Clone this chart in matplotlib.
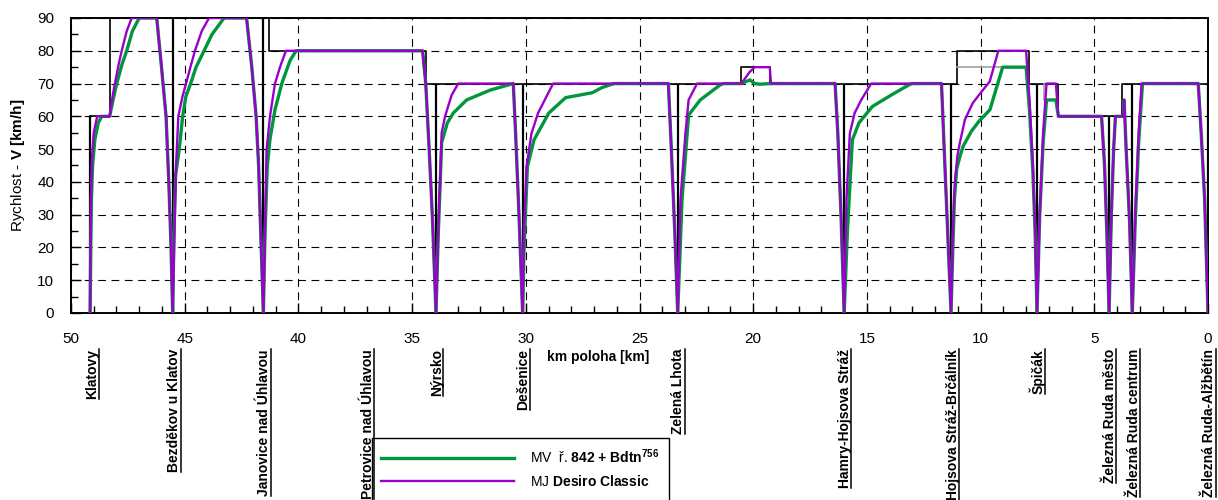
import matplotlib
matplotlib.use("Agg")
import matplotlib.pyplot as plt
from matplotlib.lines import Line2D
from matplotlib.transforms import IdentityTransform, blended_transform_factory
from matplotlib.ticker import MultipleLocator

plt.rcParams['font.family'] = ['Liberation Sans', 'DejaVu Sans']
plt.rcParams['mathtext.fontset'] = 'custom'
plt.rcParams['mathtext.rm'] = 'Liberation Sans'
plt.rcParams['mathtext.bf'] = 'Liberation Sans:bold'
plt.rcParams['mathtext.it'] = 'Liberation Sans:italic'

# ---------------- data ----------------
station_names = ["Klatovy", "Bezděkov u Klatov", "Janovice nad Úhlavou",
                 "Petrovice nad Úhlavou", "Nýrsko", "Dešenice", "Zelená Lhota",
                 "Hamry-Hojsova Stráž", "Hojsova Stráž-Brčálník", "Špičák",
                 "Železná Ruda město", "Železná Ruda centrum", "Železná Ruda-Alžbětín"]
station_km = [49.05, 45.45, 41.5, 36.95, 33.92, 30.12, 23.3, 15.97, 11.22, 7.52,
              4.33, 3.27, -0.05]

stop_km = [49.16, 45.53, 41.54, 33.95, 30.14, 23.32, 16.0, 11.3, 7.52, 4.35, 3.33, 0.0]
stop_limit = [60, 90, 90, 70, 70, 70, 70, 70, 70, 60, 70, 70]

limit_km = [49.16, 48.3, 41.3, 34.4, 20.52, 19.27, 11.04, 7.87, 6.6, 3.78, 0.0]
limit_v = [60, 90, 80, 70, 75, 70, 80, 70, 60, 70, 70]

gray_km = [11.04, 8.0]
gray_v = [75, 75]
gray2_km = [7.21, 7.21]
gray2_v = [70, 65]

green_km = [49.16, 49.13, 49.1, 49.05, 48.95, 48.8, 48.65, 48.3, 48.15, 47.99, 47.75,
            47.55, 47.3, 47.0, 46.23, 46.02, 45.82, 45.7, 45.6, 45.53,
            45.47, 45.4, 45.24, 45.09, 44.95, 44.74, 44.5, 44.15, 43.8, 43.27,
            42.28, 42.05, 41.86, 41.75, 41.66, 41.54,
            41.47, 41.37, 41.25, 41.03, 40.73, 40.37, 40.1,
            34.54, 34.4, 34.25, 34.1, 33.95,
            33.85, 33.7, 33.45, 33.19, 32.6, 31.57, 30.55, 30.45, 30.3, 30.14,
            30.08, 29.93, 29.64, 28.99, 28.25, 27.08, 26.64, 26.12,
            23.73, 23.6, 23.45, 23.32,
            23.13, 22.84, 22.33, 21.45, 21.3,
            20.52, 20.15, 19.93, 19.7, 19.27,
            16.4, 16.28, 16.14, 16.0,
            15.86, 15.64, 15.35, 14.76, 13.88, 13.15, 13.0,
            11.72, 11.6, 11.45, 11.3,
            11.22, 11.15, 11.05, 10.9, 10.76, 10.4, 10.06, 9.59, 9.03, 8.0,
            7.85, 7.7, 7.6, 7.52,
            7.4, 7.25, 7.1, 6.69, 6.58,
            4.68, 4.55, 4.45, 4.35,
            4.25, 4.15, 4.07, 3.79, 3.72, 3.69, 3.6, 3.45, 3.33,
            3.2, 3.05, 2.88, 0.43, 0.3, 0.15, 0.0]
green_v = [0, 20, 35, 45, 53, 58, 60, 60, 65, 70, 76,
           80, 86, 90, 90, 75, 60, 40, 20, 0,
           25, 42, 50, 60, 66, 70, 75, 80, 85, 90,
           90, 75, 60, 45, 25, 0,
           24, 44.6, 53, 62, 70, 77, 80,
           80, 70, 50, 28, 0,
           24, 52, 58, 61, 65, 68, 70, 55, 30, 0,
           19, 44.6, 52.8, 61, 65.7, 67.2, 68.8, 70,
           70, 50, 25, 0,
           34.5, 60.4, 65, 69.6, 70,
           70, 71.1, 70, 69.8, 70,
           70, 55, 30, 0,
           24.4, 52.8, 58, 63, 66.7, 69.6, 70,
           70, 50, 25, 0,
           20, 35, 44, 48, 51, 55.5, 58.6, 62, 75, 75,
           62, 43, 24, 0,
           30, 52, 65, 65, 60,
           60, 45, 25, 0,
           30, 50, 60, 60, 60, 65, 50, 28, 0,
           28, 52, 70, 70, 55, 35, 0]

purple_km = [49.16, 49.14, 49.12, 49.08, 49.0, 48.85, 48.3, 48.15, 48.07, 47.9,
             47.77, 47.55, 47.33, 46.23, 46.02, 45.82, 45.7, 45.6, 45.53,
             45.45, 45.38, 45.28, 45.1, 44.94, 44.75, 44.55, 44.25, 43.93,
             42.28, 42.05, 41.86, 41.75, 41.66, 41.54,
             41.47, 41.4, 41.25, 41.03, 40.81, 40.55,
             34.54, 34.4, 34.25, 34.1, 33.95,
             33.85, 33.77, 33.7, 33.55, 33.26, 32.97, 30.55, 30.45, 30.3, 30.14,
             30.08, 29.97, 29.75, 29.46, 28.8,
             23.73, 23.6, 23.45, 23.32,
             23.2, 22.98, 22.84, 22.47,
             20.52, 20.15, 19.93, 19.27, 19.22,
             16.4, 16.28, 16.14, 16.0,
             15.9, 15.75, 15.54, 15.25, 14.81,
             11.72, 11.6, 11.45, 11.3,
             11.22, 11.13, 11.02, 10.91, 10.69, 10.35, 9.96, 9.6, 9.22, 8.0,
             7.85, 7.7, 7.6, 7.52,
             7.4, 7.25, 7.1, 6.69, 6.58,
             4.68, 4.55, 4.45, 4.35,
             4.25, 4.15, 4.07, 3.79, 3.72, 3.69, 3.6, 3.45, 3.33,
             3.2, 3.05, 2.92, 0.43, 0.3, 0.15, 0.0]
purple_v = [0, 20, 35, 47, 55, 60, 60, 67, 70, 76,
            80, 86, 90, 90, 75, 60, 40, 20, 0,
            25, 45, 60, 66, 70, 75, 80, 86, 90,
            90, 75, 60, 45, 25, 0,
            24.4, 49.7, 60, 70, 75, 80,
            80, 70, 50, 28, 0,
            25, 40, 55, 60, 66.5, 70, 70, 55, 30, 0,
            24, 44.6, 54.8, 61, 70,
            70, 50, 25, 0,
            34.5, 54.8, 65, 70,
            70, 73.6, 75, 75, 70,
            70, 55, 30, 0,
            34.5, 54.8, 61, 65, 70,
            70, 50, 25, 0,
            25, 40, 48, 52, 59, 64, 67.5, 70.6, 80, 80,
            65, 45, 25, 0,
            30, 55, 70, 70, 60,
            60, 45, 25, 0,
            30, 50, 60, 60, 60, 65, 50, 28, 0,
            30, 55, 70, 70, 55, 35, 0]

legend_labels = [r"MV  ř. $\mathbf{842}$ $\mathbf{+}$ $\mathbf{Bdtn^{756}}$",
                 r"MJ $\mathbf{Desiro}$ $\mathbf{Classic}$", " "]

GREEN = "#00963c"
PURPLE = "#9900cc"

# ---------------- figure ----------------
W, H = 1218, 500
fig = plt.figure(figsize=(W / 100, H / 100), dpi=100)
ax = fig.add_axes([71 / W, 1 - 313 / H, (1208 - 71) / W, (313 - 18) / H])

ax.set_xlim(50, 0)
ax.set_ylim(0, 90)
ax.xaxis.set_major_locator(MultipleLocator(5))
ax.xaxis.set_minor_locator(MultipleLocator(1))
ax.yaxis.set_major_locator(MultipleLocator(10))
ax.yaxis.set_minor_locator(MultipleLocator(5))
ax.tick_params(which='major', direction='in', length=7, width=1.0, labelsize=11)
ax.tick_params(which='minor', direction='in', length=5, width=1.0)
ax.tick_params(axis='x', which='major', pad=14)
ax.tick_params(axis='y', which='major', pad=12)
for s in ax.spines.values():
    s.set_linewidth(1.4)
ax.set_axisbelow(True)
ax.grid(which='major', color='black', linestyle=(0, (7, 5)), linewidth=0.8)

# speed limit
ax.plot(limit_km, limit_v, drawstyle='steps-post', color='black', lw=1.2, zorder=2)
ax.vlines(stop_km, 0, stop_limit, color='black', lw=1.6, zorder=2)
ax.plot(gray_km, gray_v, color='#a0a0a0', lw=1.2, zorder=2)
ax.plot(gray2_km, gray2_v, color='#a0a0a0', lw=1.2, zorder=2)

l1, = ax.plot(green_km, green_v, color=GREEN, lw=2.4, zorder=3)
l2, = ax.plot(purple_km, purple_v, color=PURPLE, lw=1.7, zorder=4)
blank = Line2D([], [], color='none')

# station labels
trans = blended_transform_factory(ax.transData, fig.transFigure)
texts = []
for name, km in zip(station_names, station_km):
    t = ax.text(km, 1 - 349 / H, name, transform=trans, rotation=90,
                ha='center', va='top', fontsize=10, fontweight='bold',
                clip_on=False)
    texts.append(t)

fig.text(598 / W, 1 - 357 / H, "km poloha [km]", ha='center', va='center',
         fontsize=10, fontweight='bold')
fig.text(18 / W, 1 - 165 / H, r"Rychlost - $\mathbf{V\ [km/h]}$", rotation=90,
         ha='center', va='center', fontsize=11)

leg = ax.legend([l1, l2, blank], legend_labels, loc='upper left',
                bbox_to_anchor=(372 / W, 1 - 438 / H), bbox_transform=fig.transFigure,
                borderaxespad=0, frameon=True, fancybox=False, framealpha=1,
                edgecolor='black', fontsize=10, handlelength=9.6,
                handletextpad=1.15, borderpad=0.65, labelspacing=0.6)
leg.get_frame().set_linewidth(1.0)

fig.canvas.draw()
renderer = fig.canvas.get_renderer()
for t in texts:
    bb = t.get_window_extent(renderer)
    x = bb.x1 - 0.5
    fig.add_artist(Line2D([x, x], [bb.y0, bb.y1], transform=IdentityTransform(),
                          color='black', lw=1.1))

fig.savefig("out.png", dpi=100)
